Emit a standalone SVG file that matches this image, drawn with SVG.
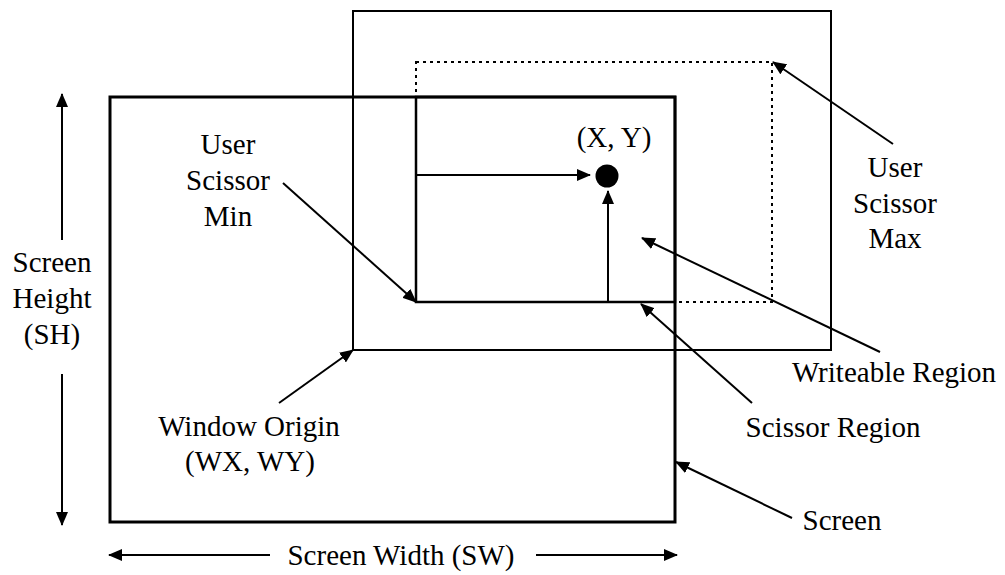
<svg xmlns="http://www.w3.org/2000/svg" width="1005" height="575" viewBox="0 0 1005 575">
<style>
.box{fill:none;stroke:#000}
.c{fill:none;stroke:#000;stroke-width:2;marker-end:url(#ah)}
</style>
<defs>
<marker id="ah" markerUnits="userSpaceOnUse" markerWidth="14" markerHeight="12" refX="13" refY="6" orient="auto">
<path d="M0,0 L14,6 L0,12 z" fill="#000"/>
</marker>
</defs>
<rect width="1005" height="575" fill="#fff"/>
<g id="user-scissor"><rect class="box" x="416" y="62" width="356" height="240" stroke-width="2" stroke-dasharray="3,4"/></g>
<g id="window"><rect class="box" x="353" y="11" width="478" height="339" stroke-width="2"/></g>
<g id="screen"><rect class="box" x="110" y="97" width="565" height="425" stroke-width="3"/></g>
<g id="scissor-region"><rect class="box" x="416" y="97" width="259" height="205" stroke-width="2.5"/></g>
<g id="point"><circle cx="607" cy="176" r="11.5" fill="#000"/></g>
<g id="connectors">
<line class="c" x1="416" y1="175" x2="590" y2="175"/>
<line class="c" x1="608" y1="302" x2="608" y2="191"/>
<line class="c" x1="62" y1="240" x2="62" y2="94"/>
<line class="c" x1="62" y1="374" x2="62" y2="525"/>
<line class="c" x1="270" y1="555" x2="109" y2="555"/>
<line class="c" x1="536" y1="555" x2="677" y2="555"/>
<line class="c" x1="283" y1="183" x2="416" y2="302"/>
<line class="c" x1="279" y1="403" x2="353" y2="350"/>
<line class="c" x1="893" y1="144" x2="773" y2="62"/>
<line class="c" x1="880" y1="352" x2="642" y2="238"/>
<line class="c" x1="752" y1="403" x2="641" y2="304"/>
<line class="c" x1="792" y1="518" x2="676" y2="462"/>
</g>
<g id="labels" font-family="Liberation Serif, serif" font-size="29" text-anchor="middle" fill="#000">
<text x="614" y="147">(X, Y)</text>
<text x="228" y="154">User</text>
<text x="228" y="190">Scissor</text>
<text x="228" y="226">Min</text>
<text x="895" y="177">User</text>
<text x="895" y="213">Scissor</text>
<text x="895" y="248">Max</text>
<text x="52" y="272">Screen</text>
<text x="52" y="308">Height</text>
<text x="52" y="344">(SH)</text>
<text x="249" y="436">Window Origin</text>
<text x="250" y="471">(WX, WY)</text>
<text x="894" y="382">Writeable Region</text>
<text x="833" y="437">Scissor Region</text>
<text x="842" y="530">Screen</text>
<text x="401" y="565">Screen Width (SW)</text>
</g>
</svg>
